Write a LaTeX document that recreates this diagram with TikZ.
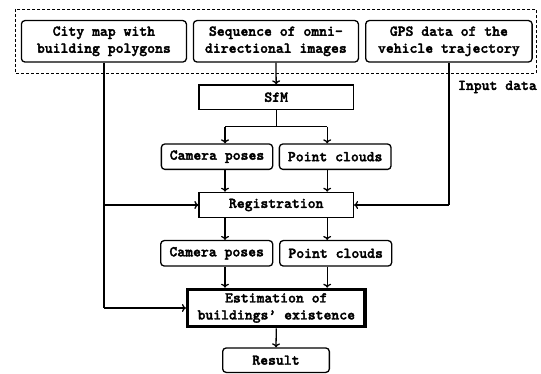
\documentclass[tikz,border=0pt]{standalone}
\usepackage{fontspec}
\newfontfamily\courb{lmmonolt10-bold.otf}[FakeBold=2.2]
\usetikzlibrary{arrows.meta}
\begin{document}
\begin{tikzpicture}[x=1pt,y=-1pt,
  font=\courb\fontsize{15}{17}\selectfont,
  box/.style={draw, line width=1.3pt, rounded corners=3.5pt, align=center, inner sep=0pt},
  sqbox/.style={draw, line width=1.3pt, align=center, inner sep=0pt},
  arr/.style={line width=1.3pt, -{To[length=4pt,width=8pt,line width=1.3pt]}},
  ln/.style={line width=1.3pt}]
\useasboundingbox (0,0) rectangle (541,374);
% input boxes
\node[box, minimum width=165pt, minimum height=41.4pt] (map) at (103.9,41.3) {City map with\\building polygons};
\node[box, minimum width=165pt, minimum height=41.4pt] (seq) at (275.9,41.3) {Sequence of omni-\\directional images};
\node[box, minimum width=166.4pt, minimum height=41.4pt] (gps) at (448.9,41.3) {GPS data of the\\vehicle trajectory};
\draw[dashed, line width=0.9pt, dash pattern=on 3pt off 2pt] (15.7,9) rectangle (536,73.5);
\node[anchor=east, inner sep=0pt] (inp) at (537,87) {Input data};
% SfM
\node[sqbox, minimum width=154.4pt, minimum height=24.4pt] (sfm) at (276.2,97.2) {SfM};
\node[box, minimum width=111.3pt, minimum height=25.4pt] (cp1) at (217,156.7) {Camera poses};
\node[box, minimum width=111.7pt, minimum height=25.4pt] (pc1) at (335.2,156.7) {Point clouds};
\node[sqbox, minimum width=154.4pt, minimum height=25.3pt] (reg) at (276.2,205) {Registration};
\node[box, minimum width=112pt, minimum height=25.4pt] (cp2) at (216.7,253.3) {Camera poses};
\node[box, minimum width=112pt, minimum height=25.4pt] (pc2) at (335.7,253.3) {Point clouds};
\node[sqbox, line width=3.3pt, minimum width=177.4pt, minimum height=37.3pt] (est) at (276.3,308) {Estimation of\\buildings’ existence};
\node[box, minimum width=106.7pt, minimum height=24.4pt] (res) at (276,360.2) {Result};
% column coordinates
\coordinate (cl) at (225,0);
\coordinate (cr) at (327.2,0);
\coordinate (br) at (0,126.7);
% connectors
\draw[arr] (seq.south) -- (sfm.north);
\draw[ln] (sfm.south) -- (sfm.south |- br);
\draw[ln] (cl |- br) -- (cr |- br);
\draw[arr] (cl |- br) -- (cl |- cp1.north);
\draw[arr] (cr |- br) -- (cr |- pc1.north);
\draw[arr] (cl |- cp1.south) -- (cl |- reg.north);
\draw[arr] (cr |- pc1.south) -- (cr |- reg.north);
\draw[arr] (cl |- reg.south) -- (cl |- cp2.north);
\draw[arr] (cr |- reg.south) -- (cr |- pc2.north);
\draw[arr] (cl |- cp2.south) -- (cl |- est.north);
\draw[arr] (cr |- pc2.south) -- (cr |- est.north);
\draw[arr] (est.south) -- (res.north);
\draw[ln] (map.south) -- (map.south |- est.west);
\draw[arr] (map.south |- est.west) -- (est.west);
\draw[arr] (map.south |- reg.west) -- (reg.west);
\draw[ln] (gps.south) -- (gps.south |- reg.east);
\draw[arr] (gps.south |- reg.east) -- (reg.east);
\end{tikzpicture}
\end{document}
